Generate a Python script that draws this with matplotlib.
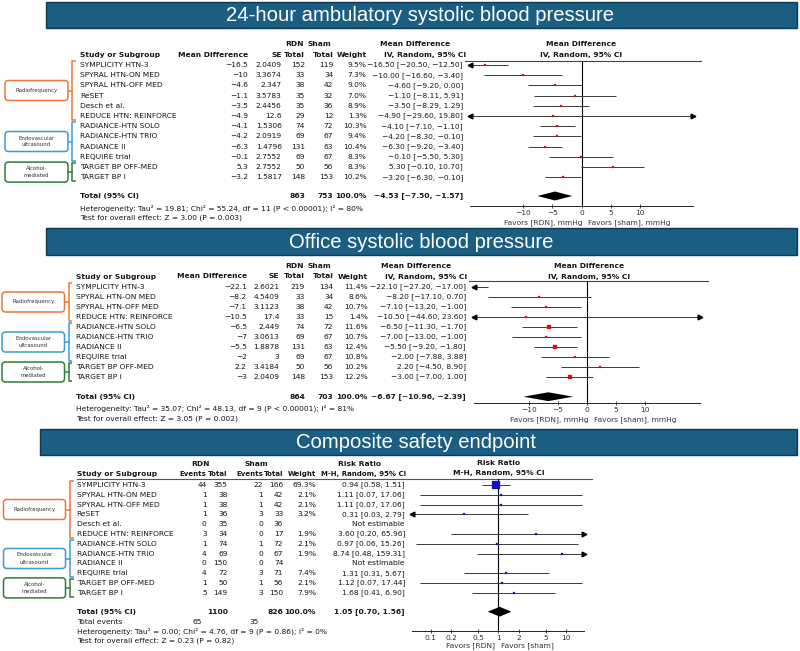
import numpy as np
import matplotlib
matplotlib.use("Agg")
import matplotlib.pyplot as plt
from matplotlib.patches import Rectangle, FancyBboxPatch
from matplotlib.ticker import NullLocator

# ---------------- data ----------------
studies_abpm = ["SYMPLICITY HTN-3", "SPYRAL HTN-ON MED", "SPYRAL HTN-OFF MED", "ReSET",
                "Desch et al.", "REDUCE HTN: REINFORCE", "RADIANCE-HTN SOLO",
                "RADIANCE-HTN TRIO", "RADIANCE II", "REQUIRE trial", "TARGET BP OFF-MED",
                "TARGET BP I"]
abpm_md = [-16.5, -10, -4.6, -1.1, -3.5, -4.9, -4.1, -4.2, -6.3, -0.1, 5.3, -3.2]
abpm_se = [2.0409, 3.3674, 2.347, 3.5783, 2.4456, 12.6, 1.5306, 2.0919, 1.4796, 2.7552, 2.7552, 1.5817]
abpm_rdn_n = [152, 33, 38, 35, 35, 29, 74, 69, 131, 69, 50, 148]
abpm_sham_n = [119, 34, 42, 32, 36, 12, 72, 67, 63, 67, 56, 153]
abpm_weight = [9.5, 7.3, 9.0, 7.0, 8.9, 1.3, 10.3, 9.4, 10.4, 8.3, 8.3, 10.2]
abpm_lo = [-20.50, -16.60, -9.20, -8.11, -8.29, -29.60, -7.10, -8.30, -9.20, -5.50, -0.10, -6.30]
abpm_hi = [-12.50, -3.40, 0.00, 5.91, 1.29, 19.80, -1.10, -0.10, -3.40, 5.30, 10.70, -0.10]
abpm_total = (863, 753)
abpm_pooled = (-4.53, -7.50, -1.57)
abpm_het = "Heterogeneity: Tau\u00b2 = 19.81; Chi\u00b2 = 55.24, df = 11 (P < 0.00001); I\u00b2 = 80%"
abpm_test = "Test for overall effect: Z = 3.00 (P = 0.003)"

studies_office = ["SYMPLICITY HTN-3", "SPYRAL HTN-ON MED", "SPYRAL HTN-OFF MED",
                  "REDUCE HTN: REINFORCE", "RADIANCE-HTN SOLO", "RADIANCE-HTN TRIO",
                  "RADIANCE II", "REQUIRE trial", "TARGET BP OFF-MED", "TARGET BP I"]
office_md = [-22.1, -8.2, -7.1, -10.5, -6.5, -7, -5.5, -2, 2.2, -3]
office_se = [2.6021, 4.5409, 3.1123, 17.4, 2.449, 3.0613, 1.8878, 3, 3.4184, 2.0409]
office_rdn_n = [219, 33, 38, 33, 74, 69, 131, 69, 50, 148]
office_sham_n = [134, 34, 42, 15, 72, 67, 63, 67, 56, 153]
office_weight = [11.4, 8.6, 10.7, 1.4, 11.6, 10.7, 12.4, 10.8, 10.2, 12.2]
office_lo = [-27.20, -17.10, -13.20, -44.60, -11.30, -13.00, -9.20, -7.88, -4.50, -7.00]
office_hi = [-17.00, 0.70, -1.00, 23.60, -1.70, -1.00, -1.80, 3.88, 8.90, 1.00]
office_total = (864, 703)
office_pooled = (-6.67, -10.96, -2.39)
office_het = "Heterogeneity: Tau\u00b2 = 35.07; Chi\u00b2 = 48.13, df = 9 (P < 0.00001); I\u00b2 = 81%"
office_test = "Test for overall effect: Z = 3.05 (P = 0.002)"

studies_safety = studies_abpm
safety_rdn_ev = [44, 1, 1, 1, 0, 3, 1, 4, 0, 4, 1, 5]
safety_rdn_n = [355, 38, 38, 36, 35, 34, 74, 69, 150, 72, 50, 149]
safety_sham_ev = [22, 1, 1, 3, 0, 0, 1, 0, 0, 3, 1, 3]
safety_sham_n = [166, 42, 42, 33, 36, 17, 72, 67, 74, 71, 56, 150]
safety_weight = [69.3, 2.1, 2.1, 3.2, None, 1.9, 2.1, 1.9, None, 7.4, 2.1, 7.9]
safety_rr = [0.94, 1.11, 1.11, 0.31, None, 3.60, 0.97, 8.74, None, 1.31, 1.12, 1.68]
safety_lo = [0.58, 0.07, 0.07, 0.03, None, 0.20, 0.06, 0.48, None, 0.31, 0.07, 0.41]
safety_hi = [1.51, 17.06, 17.06, 2.79, None, 65.96, 15.26, 159.31, None, 5.67, 17.44, 6.90]
safety_total = (1100, 826)
safety_events = (65, 35)
safety_pooled = (1.05, 0.70, 1.56)
safety_het = "Heterogeneity: Tau\u00b2 = 0.00; Chi\u00b2 = 4.76, df = 9 (P = 0.86); I\u00b2 = 0%"
safety_test = "Test for overall effect: Z = 0.23 (P = 0.82)"

md_ticks = [-10, -5, 0, 5, 10]
rr_ticks = [0.1, 0.2, 0.5, 1, 2, 5, 10]
rr_tick_labels = ["0.1", "0.2", "0.5", "1", "2", "5", "10"]

# groups: label, colour, first row, last row
groups_abpm = [("Radiofrequency", "#e8793a", 0, 5), ("Endovascular\nultrasound", "#3d9ad6", 6, 9),
               ("Alcohol-\nmediated", "#2e7d3a", 10, 11)]
groups_office = [("Radiofrequency", "#e8793a", 0, 3), ("Endovascular\nultrasound", "#3d9ad6", 4, 7),
                 ("Alcohol-\nmediated", "#2e7d3a", 8, 9)]

# ---------------- layout ----------------
W, H = 800, 651
FS = 5.4
TXT = "#151515"
BANNER = "#1b5e82"
plt.rcParams['font.family'] = ['DejaVu Sans']

fig = plt.figure(figsize=(8, 6.51), dpi=100)
canvas = fig.add_axes([0, 0, 1, 1])
canvas.set_xlim(0, W)
canvas.set_ylim(H, 0)
canvas.axis('off')


def minus(s):
    return s.replace('-', '\u2212')


def txt(x, y, s, ha='left', bold=False, size=FS):
    canvas.text(x, y, s, ha=ha, va='center', fontsize=size, color=TXT,
                fontweight='bold' if bold else 'normal')


def banner(x0, x1, y0, y1, title, xc):
    canvas.add_patch(Rectangle((x0, y0), x1 - x0, y1 - y0, facecolor=BANNER,
                               edgecolor='#0e3a52', lw=1.0))
    canvas.text(xc, (y0 + y1) / 2 + 0.5, title, ha='center', va='center', color='white',
                fontsize=14.6, family=['Liberation Sans', 'DejaVu Sans'])


def brackets(groups, row0, step, bx0, bx1, xb):
    for label, col, a, b in groups:
        top = row0 + a * step - 0.4 * step
        bot = row0 + b * step + 0.4 * step
        mid = (top + bot) / 2
        canvas.plot([xb + 3.5, xb, xb, xb + 3.5], [top, top, bot, bot], color=col, lw=1.1,
                    solid_capstyle='butt')
        canvas.plot([bx1, xb], [mid, mid], color=col, lw=1.1)
        canvas.add_patch(FancyBboxPatch((bx0, mid - 10), bx1 - bx0, 20,
                                        boxstyle="round,pad=0,rounding_size=3.5",
                                        facecolor='white', edgecolor=col, lw=1.1))
        canvas.text((bx0 + bx1) / 2, mid, label, ha='center', va='center', fontsize=3.9,
                    color='#333333', linespacing=1.5)


def forest_axes(x0, x1, y0, y1):
    ax = fig.add_axes([x0 / W, 1 - y1 / H, (x1 - x0) / W, (y1 - y0) / H])
    ax.patch.set_visible(False)
    for s in ['top', 'left', 'right']:
        ax.spines[s].set_visible(False)
    ax.spines['bottom'].set_linewidth(0.7)
    ax.spines['bottom'].set_color('#222222')
    ax.set_yticks([])
    ax.tick_params(axis='x', direction='inout', length=3, width=0.6, pad=1.2,
                   labelsize=FS, labelcolor='#333333', color='#222222')
    return ax


def draw_forest(ax, est, lo, hi, w, pooled, xlim, ref, row0, step, top, bot, total_y,
                colour, dh, log=False):
    if log:
        ax.set_xscale('log')
    ax.set_xlim(*xlim)
    ax.set_ylim((bot - row0) / step, (top - row0) / step)
    ax.axvline(ref, color='black', lw=0.8, zorder=1)
    for i in range(len(est)):
        if est[i] is None:
            continue
        l, h = max(lo[i], xlim[0]), min(hi[i], xlim[1])
        ax.plot([l, h], [i, i], color='#3a3a3a', lw=0.7, zorder=2, solid_capstyle='butt')
        if lo[i] < xlim[0]:
            ax.plot(xlim[0], i, marker='<', ms=3.4, color='black', clip_on=False, zorder=3)
        if hi[i] > xlim[1]:
            ax.plot(xlim[1], i, marker='>', ms=3.4, color='black', clip_on=False, zorder=3)
        side = max(0.9 * np.sqrt(w[i]), 2.2) * 0.72
        ax.plot(est[i], i, marker='s', ms=side, color=colour, mec=colour, mew=0.2,
                zorder=4, snap=False)
    yt = (total_y - row0) / step
    pe, pl, ph = pooled
    ax.fill([pl, pe, ph, pe], [yt, yt - dh, yt, yt + dh], color='black', lw=0, zorder=4)


def favors(ax, ref, left, right, dy, gap_l, gap_r):
    ax.annotate(left, xy=(ref, 0), xycoords=('data', 'axes fraction'), xytext=(gap_l, -dy),
                textcoords='offset points', ha='right', va='center', fontsize=FS, color='#333333')
    ax.annotate(right, xy=(ref, 0), xycoords=('data', 'axes fraction'), xytext=(gap_r, -dy),
                textcoords='offset points', ha='left', va='center', fontsize=FS, color='#333333')


def md_panel(studies, md, se, rdn, sham, w, lo, hi, totals, pooled, het, test, groups,
             ytop, row0, step, total_y, xl, cols, hdr_ci_c, plot_x, plot_hdr_c, xlim,
             line_y, axis_y, brk):
    c_md, c_se, c_rdn, c_sham, c_w, c_ci = cols
    y1, y2 = ytop, ytop + 10.5
    txt(c_rdn - 11, y1, "RDN", ha='center', bold=True)
    txt(c_sham - 13.5, y1, "Sham", ha='center', bold=True)
    txt(hdr_ci_c[0], y1, "Mean Difference", ha='center', bold=True)
    txt(plot_hdr_c, y1, "Mean Difference", ha='center', bold=True)
    txt(xl, y2, "Study or Subgroup", bold=True)
    txt(c_md, y2, "Mean Difference", ha='right', bold=True)
    txt(c_se, y2, "SE", ha='right', bold=True)
    txt(c_rdn, y2, "Total", ha='right', bold=True)
    txt(c_sham, y2, "Total", ha='right', bold=True)
    txt(c_w, y2, "Weight", ha='right', bold=True)
    txt(hdr_ci_c[1], y2, "IV, Random, 95% CI", ha='center', bold=True)
    txt(plot_hdr_c, y2, "IV, Random, 95% CI", ha='center', bold=True)
    for i, s in enumerate(studies):
        y = row0 + i * step
        txt(xl, y, s)
        txt(c_md, y, minus(f"{md[i]:g}"), ha='right')
        txt(c_se, y, f"{se[i]:g}", ha='right')
        txt(c_rdn, y, f"{rdn[i]}", ha='right')
        txt(c_sham, y, f"{sham[i]}", ha='right')
        txt(c_w, y, f"{w[i]:.1f}%", ha='right')
        txt(c_ci, y, minus(f"{md[i]:.2f} [{lo[i]:.2f}, {hi[i]:.2f}]"), ha='right')
    txt(xl, total_y, "Total (95% CI)", bold=True)
    txt(c_rdn, total_y, f"{totals[0]}", ha='right', bold=True)
    txt(c_sham, total_y, f"{totals[1]}", ha='right', bold=True)
    txt(c_w, total_y, "100.0%", ha='right', bold=True)
    txt(c_ci, total_y, minus(f"{pooled[0]:.2f} [{pooled[1]:.2f}, {pooled[2]:.2f}]"), ha='right', bold=True)
    txt(xl, total_y + 12, het)
    txt(xl, total_y + 22, test)
    canvas.plot([plot_x[0] - 5, plot_x[1] + 8], [line_y, line_y], color='#444444', lw=0.8)
    ax = forest_axes(plot_x[0], plot_x[1], line_y, axis_y)
    draw_forest(ax, md, lo, hi, w, pooled, xlim, 0, row0, step, line_y, axis_y, total_y,
                '#d01010', 0.44)
    ax.set_xticks(md_ticks)
    ax.set_xticklabels([minus(str(t)) for t in md_ticks])
    favors(ax, 0, "Favors [RDN], mmHg", "Favors [sham], mmHg", 11.8, 1.0, 5.0)
    brackets(groups, row0, step, *brk)


# ---------------- panel 1: 24-hour ambulatory ----------------
banner(46, 797, 2, 28, "24-hour ambulatory systolic blood pressure", 420)
md_panel(studies_abpm, abpm_md, abpm_se, abpm_rdn_n, abpm_sham_n, abpm_weight, abpm_lo, abpm_hi,
         abpm_total, abpm_pooled, abpm_het, abpm_test, groups_abpm,
         ytop=44.5, row0=65, step=10.2, total_y=196, xl=80,
         cols=(248, 281.7, 305, 333.3, 366.7, 463), hdr_ci_c=(415, 425.5),
         plot_x=(470, 693), plot_hdr_c=581.5, xlim=(-19, 19), line_y=60.7, axis_y=206,
         brk=(5, 68, 72))

# ---------------- panel 2: office ----------------
banner(46, 797, 228, 255, "Office systolic blood pressure", 421.5)
md_panel(studies_office, office_md, office_se, office_rdn_n, office_sham_n, office_weight,
         office_lo, office_hi, office_total, office_pooled, office_het, office_test, groups_office,
         ytop=266, row0=287, step=10, total_y=396.7, xl=76.5,
         cols=(246.7, 279.3, 305, 333.3, 367.7, 466), hdr_ci_c=(416.5, 426.3),
         plot_x=(474, 700), plot_hdr_c=589, xlim=(-19.5, 19.5), line_y=281, axis_y=403.3,
         brk=(2, 64.5, 68.5))

# ---------------- panel 3: composite safety ----------------
banner(40, 797, 429, 455, "Composite safety endpoint", 416.5)
row0, step, total_y = 485, 9.8, 611.7
xl = 76.7
c_ev1, c_n1, c_ev2, c_n2, c_w, c_rr = 206.7, 227.7, 263.3, 283.3, 316, 405
y1, y2 = 464.3, 474.3
HS = 5.0  # header columns are tight here
txt(200, y1, "RDN", ha='center', bold=True)
txt(256.7, y1, "Sham", ha='center', bold=True)
txt(360, y1, "Risk Ratio", ha='center', bold=True)
txt(498.3, y1 - 1, "Risk Ratio", ha='center', bold=True)
txt(xl, y2, "Study or Subgroup", bold=True)
txt(c_ev1 - 0.5, y2, "Events", ha='right', bold=True, size=HS)
txt(c_n1, y2, "Total", ha='right', bold=True, size=HS)
txt(c_ev2 - 0.5, y2, "Events", ha='right', bold=True, size=HS)
txt(c_n2, y2, "Total", ha='right', bold=True, size=HS)
txt(c_w, y2, "Weight", ha='right', bold=True, size=HS)
txt(364, y2, "M-H, Random, 95% CI", ha='center', bold=True, size=HS)
txt(498.3, y2 - 1, "M-H, Random, 95% CI", ha='center', bold=True)
for i, s in enumerate(studies_safety):
    y = row0 + i * step
    txt(xl, y, s)
    txt(c_ev1, y, f"{safety_rdn_ev[i]}", ha='right')
    txt(c_n1, y, f"{safety_rdn_n[i]}", ha='right')
    txt(c_ev2, y, f"{safety_sham_ev[i]}", ha='right')
    txt(c_n2, y, f"{safety_sham_n[i]}", ha='right')
    if safety_rr[i] is None:
        txt(c_rr, y, "Not estimable", ha='right')
    else:
        txt(c_w, y, f"{safety_weight[i]:.1f}%", ha='right')
        txt(c_rr, y, f"{safety_rr[i]:.2f} [{safety_lo[i]:.2f}, {safety_hi[i]:.2f}]", ha='right')
txt(xl, total_y, "Total (95% CI)", bold=True)
txt(c_n1, total_y, f"{safety_total[0]}", ha='right', bold=True)
txt(c_n2, total_y, f"{safety_total[1]}", ha='right', bold=True)
txt(c_w, total_y, "100.0%", ha='right', bold=True)
txt(c_rr, total_y, f"{safety_pooled[0]:.2f} [{safety_pooled[1]:.2f}, {safety_pooled[2]:.2f}]",
    ha='right', bold=True)
txt(xl, total_y + 10.6, "Total events")
txt(202, total_y + 10.6, f"{safety_events[0]}", ha='right')
txt(259, total_y + 10.6, f"{safety_events[1]}", ha='right')
txt(xl, total_y + 19.5, safety_het)
txt(xl, total_y + 29, safety_test)
canvas.plot([77, 592], [479.3, 479.3], color='#555555', lw=0.8)

ax3 = forest_axes(412.3, 584.1, 479.3, 631)
draw_forest(ax3, safety_rr, safety_lo, safety_hi, [v if v else 0 for v in safety_weight],
            safety_pooled, (0.0535, 18.6), 1, row0, step, 479.3, 631, total_y,
            '#1010c8', 0.5, log=True)
ax3.set_xticks(rr_ticks)
ax3.set_xticklabels(rr_tick_labels)
ax3.xaxis.set_minor_locator(NullLocator())
favors(ax3, 1, "Favors [RDN]", "Favors [sham]", 10.8, -2.0, 1.8)
brackets(groups_abpm, row0, step, 3.5, 65.5, 70)

fig.savefig("out.png", dpi=100)
